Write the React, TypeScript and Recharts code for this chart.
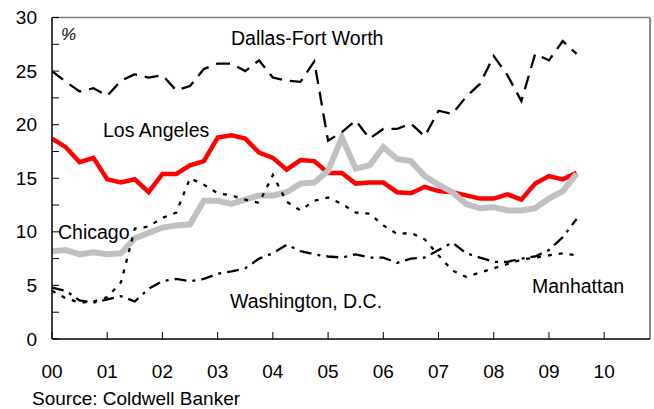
import React from 'react';
import { LineChart, Line, XAxis, YAxis, ReferenceLine } from 'recharts';

// quarterly observations, x in years since 2000
const quarters = [
  0, 0.25, 0.5, 0.75, 1, 1.25, 1.5, 1.75, 2, 2.25, 2.5, 2.75, 3, 3.25, 3.5, 3.75,
  4, 4.25, 4.5, 4.75, 5, 5.25, 5.5, 5.75, 6, 6.25, 6.5, 6.75, 7, 7.25, 7.5, 7.75,
  8, 8.25, 8.5, 8.75, 9, 9.25, 9.5,
];

const dallas = [
  25.0, 24.0, 23.1, 23.4, 22.7, 24.1, 24.7, 24.4, 24.6, 23.2, 23.6, 25.2, 25.7, 25.7, 25.0, 26.0,
  24.4, 24.1, 24.0, 25.9, 18.5, 19.3, 20.4, 18.7, 19.6, 19.6, 20.1, 18.9, 21.3, 21.0, 22.6, 23.8,
  26.4, 24.6, 22.2, 26.6, 26.0, 27.8, 26.6,
];

const losAngeles = [
  18.7, 17.9, 16.5, 16.9, 14.9, 14.6, 14.9, 13.7, 15.4, 15.4, 16.2, 16.6, 18.8, 19.0, 18.7, 17.4,
  16.9, 15.8, 16.7, 16.6, 15.5, 15.5, 14.5, 14.6, 14.6, 13.7, 13.6, 14.2, 13.8, 13.7, 13.4, 13.1,
  13.1, 13.5, 13.0, 14.5, 15.2, 14.9, 15.5,
];

const chicago = [
  8.2, 8.3, 7.9, 8.1, 7.9, 8.0, 9.4, 9.9, 10.4, 10.6, 10.7, 12.9, 12.9, 12.6, 13.0, 13.4,
  13.4, 13.7, 14.5, 14.6, 15.7, 18.8, 15.9, 16.2, 17.9, 16.8, 16.6, 15.2, 14.4, 13.7, 12.6, 12.2,
  12.3, 12.0, 12.0, 12.2, 13.1, 13.8, 15.4,
];

const washington = [
  4.8, 4.5, 3.6, 3.4, 3.7, 4.0, 3.5, 4.7, 5.4, 5.6, 5.4, 5.6, 6.1, 6.3, 6.6, 7.5,
  8.0, 8.8, 8.2, 7.9, 7.7, 7.6, 7.9, 7.6, 7.6, 7.1, 7.5, 7.6, 8.3, 9.0, 8.0, 7.6,
  7.2, 7.2, 7.5, 7.7, 8.3, 9.5, 11.2,
];

const manhattan = [
  4.5, 3.8, 3.4, 3.5, 3.9, 5.3, 10.3, 10.5, 11.3, 11.8, 15.0, 14.4, 13.6, 13.4, 13.0, 12.7,
  15.3, 12.8, 12.0, 12.9, 13.2, 12.6, 11.8, 11.7, 10.6, 9.8, 9.9, 9.3, 7.8, 6.4, 5.8, 6.2,
  6.6, 7.0, 7.4, 7.6, 7.8, 8.0, 7.8,
];

const yTicks = [0, 2.5, 5, 7.5, 10, 12.5, 15, 17.5, 20, 22.5, 25, 27.5, 30];
const xTicks = [0, 1, 2, 3, 4, 5, 6, 7, 8, 9, 10];
const xLabels = ['00', '01', '02', '03', '04', '05', '06', '07', '08', '09', '10'];
const xMax = 10.83;

const FONT = '"Liberation Sans", Arial, sans-serif';

const data = quarters.map((t, i) => ({
  t,
  dallas: dallas[i],
  la: losAngeles[i],
  chicago: chicago[i],
  washington: washington[i],
  manhattan: manhattan[i],
}));

function YTick(props: any) {
  const { x, y, payload } = props;
  const v = payload.value;
  return (
    <g>
      <line x1={x} x2={x + 7} y1={y} y2={y} stroke="#000" strokeWidth={1} />
      {v % 5 === 0 && (
        <text x={x - 15} y={y + 6.5} textAnchor="end" fontSize={19} fontFamily={FONT} fill="#000">
          {v}
        </text>
      )}
    </g>
  );
}

function XTick(props: any) {
  const { x, y, payload } = props;
  const idx = xTicks.indexOf(payload.value);
  return (
    <g>
      <line x1={x} x2={x} y1={y} y2={y - 7} stroke="#000" strokeWidth={1} />
      <text x={x} y={y + 39} textAnchor="middle" fontSize={19} fontFamily={FONT} fill="#000">
        {xLabels[idx]}
      </text>
    </g>
  );
}

const labelStyle = { fontFamily: FONT, fontSize: 19.5, fill: '#000' };

export default function App() {
  return (
    <div style={{ position: 'absolute', left: 0, top: 0, width: 654, height: 409, background: '#fff' }}>
      <LineChart
        width={654}
        height={409}
        data={data}
        margin={{ top: 17.5, right: 4, left: 0, bottom: 40 }}
      >
        <XAxis
          dataKey="t"
          type="number"
          domain={[0, xMax]}
          ticks={xTicks}
          interval={0}
          height={30}
          tickSize={0}
          tickMargin={0}
          tickLine={false}
          axisLine={{ stroke: '#000', strokeWidth: 1.5 }}
          tick={<XTick />}
        />
        <YAxis
          type="number"
          domain={[0, 30]}
          ticks={yTicks}
          interval={0}
          width={52}
          tickSize={0}
          tickMargin={0}
          tickLine={false}
          axisLine={{ stroke: '#000', strokeWidth: 1.5 }}
          tick={<YTick />}
        />
        <ReferenceLine y={30} stroke="#808080" strokeWidth={1.5} />
        <ReferenceLine x={xMax} stroke="#606060" strokeWidth={1.5} />
        <Line
          type="linear"
          dataKey="la"
          stroke="#ff0000"
          strokeWidth={4.5}
          dot={false}
          isAnimationActive={false}
        />
        <Line
          type="linear"
          dataKey="chicago"
          stroke="#c0c0c0"
          strokeWidth={6}
          dot={false}
          isAnimationActive={false}
        />
        <Line
          type="linear"
          dataKey="washington"
          stroke="#000"
          strokeWidth={2.3}
          strokeDasharray="12 6 3 6"
          dot={false}
          isAnimationActive={false}
        />
        <Line
          type="linear"
          dataKey="manhattan"
          stroke="#000"
          strokeWidth={2.3}
          strokeDasharray="4 7"
          dot={false}
          isAnimationActive={false}
        />
        <Line
          type="linear"
          dataKey="dallas"
          stroke="#000"
          strokeWidth={2.3}
          strokeDasharray="14 8"
          dot={false}
          isAnimationActive={false}
        />
      </LineChart>
      <svg
        width={654}
        height={409}
        style={{ position: 'absolute', left: 0, top: 0, pointerEvents: 'none' }}
      >
        <text x={61} y={39.5} {...labelStyle} fontSize={17} fontStyle="italic">%</text>
        <text x={231} y={45} {...labelStyle}>Dallas-Fort Worth</text>
        <text x={103} y={137} {...labelStyle}>Los Angeles</text>
        <text x={58} y={238.5} {...labelStyle}>Chicago</text>
        <text x={230} y={308} {...labelStyle}>Washington, D.C.</text>
        <text x={532} y={293} {...labelStyle}>Manhattan</text>
        <text x={32} y={405} {...labelStyle} fontSize={19}>Source: Coldwell Banker</text>
      </svg>
    </div>
  );
}
